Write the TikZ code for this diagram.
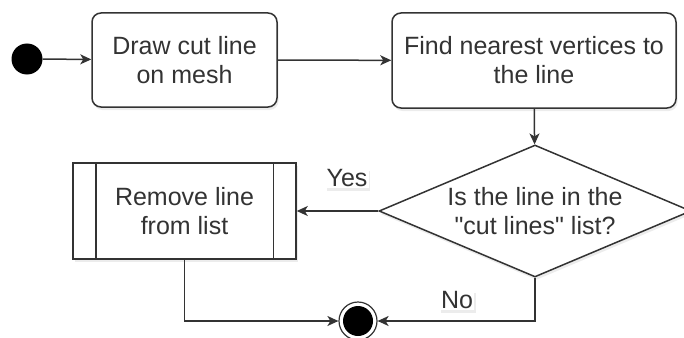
\documentclass[tikz,border=0pt]{standalone}
\usepackage{fontspec}
\setmainfont{Liberation Sans}[Ligatures=TeXOff]
\usetikzlibrary{shapes.geometric,arrows.meta,shadows,calc}
\definecolor{ink}{HTML}{333333}
\tikzset{
  x=1pt, y=-1pt,
  every node/.style={font=\fontsize{25}{29}\selectfont, text=ink},
  soft/.style={drop shadow={shadow xshift=1.5pt, shadow yshift=-3pt, opacity=0.12, fill=black!60}},
  action/.style={draw=ink, line width=1.5pt, fill=white, rounded corners=9pt, align=center, inner sep=0pt, soft},
  procbox/.style={draw=ink, line width=1.5pt, fill=white, align=center, inner sep=0pt, soft},
  decision/.style={diamond, draw=ink, line width=1.5pt, fill=white, inner sep=0pt, soft},
  flow/.style={draw=ink, line width=1.5pt, -{Stealth[length=11pt, width=10pt, inset=3pt]}},
  edgelabel/.style={fill=white, inner sep=1.5pt, soft}
}
\begin{document}
\begin{tikzpicture}
  \useasboundingbox (0,0) rectangle (684,337);

  % start and end markers
  \node (start) [circle, fill=black, minimum size=31pt, inner sep=0pt] at (27,59) {};
  \node (finish) [circle, draw=ink, line width=1.2pt, fill=white, minimum size=38pt, inner sep=0pt] at (358,321) {};
  \node (finishdot) [circle, fill=black, minimum size=30pt, inner sep=0pt] at (finish.center) {};

  % activities
  \node (draw) [action, minimum width=185pt, minimum height=94pt] at (184.5,60) {Draw cut line\\on mesh};
  \node (find) [action, minimum width=284pt, minimum height=95pt] at (534,60.5) {Find nearest vertices to\\the line};
  \node (remove) [procbox, minimum width=223pt, minimum height=96pt] at (184.5,211) {Remove line\\from list};
  \draw [ink, line width=1.5pt] ($(remove.north west)+(23.5,0)$) -- ($(remove.south west)+(23.5,0)$)
                                ($(remove.north east)+(-23.5,0)$) -- ($(remove.south east)+(-23.5,0)$);

  % decision
  \node (check) [decision, minimum width=312pt, minimum height=132pt] at (535,211) {};
  \node (checktext) [align=center, inner sep=0pt] at (check.center) {Is the line in the\\"cut lines" list?};

  % connectors
  \draw [flow] (start) -- (draw);
  \draw [flow] (draw) -- (find);
  \draw [flow] (find) -- (check);
  \draw [flow] (check.west) -- (remove.east);
  \draw [flow] (remove.south) |- (finish.west);
  \draw [flow] (check.south) |- (finish.east);

  % branch labels
  \node (yes) [edgelabel] at (347,178) {Yes};
  \node (no) [edgelabel] at (457,300) {No};
\end{tikzpicture}
\end{document}
